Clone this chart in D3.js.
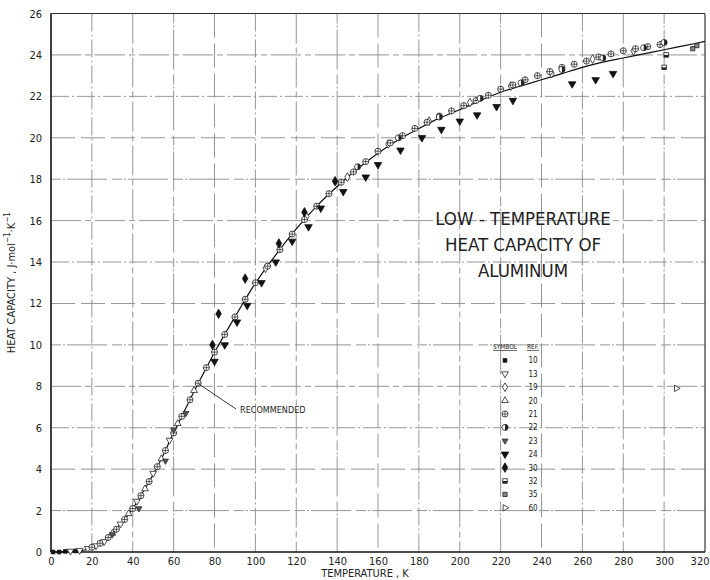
<!DOCTYPE html>
<html>
<head>
<meta charset="utf-8">
<script src="https://cdn.jsdelivr.net/npm/d3@7/dist/d3.min.js"></script>
<style>
  body { margin: 0; background: #fff; }
  text { font-family: "DejaVu Sans Condensed", "Liberation Sans Narrow", sans-serif; fill: #222; }
</style>
</head>
<body>
<div id="chart"></div>
<script>
// Datos (T en K, Cp en J/mol K)

const X_TICKS = [0, 20, 40, 60, 80, 100, 120, 140, 160, 180, 200, 220, 240, 260, 280, 300, 320];
const Y_TICKS = [0, 2, 4, 6, 8, 10, 12, 14, 16, 18, 20, 22, 24, 26];

const curveT  = [0, 5, 10, 15, 20, 25, 30, 35, 40, 45, 50, 55, 60, 65, 70, 75, 80, 90, 100, 110, 120, 130, 140, 150, 160, 170, 180, 190, 200, 210, 220, 230, 240, 250, 260, 270, 280, 290, 300, 310, 320];
const curveCp = [0, 0.002, 0.014, 0.06, 0.23, 0.47, 0.90, 1.45, 2.09, 2.9, 3.74, 4.7, 5.77, 6.75, 7.75, 8.7, 9.63, 11.35, 12.98, 14.35, 15.6, 16.7, 17.65, 18.5, 19.25, 19.9, 20.45, 20.95, 21.35, 21.8, 22.2, 22.5, 22.8, 23.1, 23.4, 23.65, 23.85, 24.05, 24.25, 24.45, 24.65];

const ref10T  = [1, 4, 7, 12];
const ref10Cp = [0.0, 0.0, 0.03, 0.05];
const ref13T  = [9.5, 14, 18, 22, 26, 34, 42, 50, 58];
const ref13Cp = [0.04, 0.08, 0.17, 0.3, 0.5, 1.35, 2.45, 3.8, 5.4];
const ref19T  = [105, 125, 145, 165, 185, 205, 225, 245, 265, 285];
const ref19Cp = [13.7, 16.2, 18.1, 19.7, 20.8, 21.7, 22.5, 23.1, 23.8, 24.2];
const ref20T  = [30, 38, 46, 54, 62, 70];
const ref20Cp = [0.9, 1.85, 3.05, 4.5, 6.2, 7.8];
const ref21T  = [20, 24, 28, 32, 36, 40, 44, 48, 52, 56, 60, 64, 68, 72, 76, 80, 85, 90, 95, 100, 106, 112, 118, 124, 130, 136, 142, 148, 154, 160, 166, 172, 178, 184, 190, 196, 202, 208, 214, 220, 226, 232, 238, 244, 250, 256, 262, 268, 274, 280, 286, 292, 298];
const ref21Cp = [0.23, 0.42, 0.7, 1.1, 1.57, 2.1, 2.72, 3.4, 4.12, 4.9, 5.75, 6.55, 7.35, 8.15, 8.9, 9.65, 10.5, 11.35, 12.2, 13.0, 13.8, 14.6, 15.35, 16.05, 16.7, 17.3, 17.85, 18.35, 18.85, 19.35, 19.75, 20.1, 20.45, 20.75, 21.05, 21.3, 21.55, 21.8, 22.05, 22.35, 22.55, 22.8, 23.0, 23.2, 23.4, 23.55, 23.7, 23.9, 24.05, 24.2, 24.3, 24.4, 24.5];
const ref22T  = [150, 170, 190, 210, 230, 250, 270, 290, 300];
const ref22Cp = [18.6, 20.0, 21.0, 21.9, 22.65, 23.3, 23.85, 24.35, 24.6];
const ref23T  = [30, 43, 56, 60, 66];
const ref23Cp = [0.85, 2.1, 4.4, 5.9, 6.7];
const ref24T  = [80, 85, 91, 96, 103, 110, 118, 126, 132, 143, 154, 160, 171, 181.5, 191, 200, 208.5, 218, 226, 255, 266.5, 275];
const ref24Cp = [9.2, 10.0, 11.1, 11.9, 13.0, 14.0, 15.0, 15.7, 16.6, 17.4, 18.1, 18.7, 19.4, 20.0, 20.4, 20.8, 21.1, 21.5, 21.8, 22.6, 22.8, 23.1];
const ref30T  = [79, 82, 95, 111.5, 124, 139];
const ref30Cp = [10.0, 11.5, 13.2, 14.9, 16.4, 17.9];
const ref32T  = [300, 301];
const ref32Cp = [23.4, 24.0];
const ref35T  = [314, 316];
const ref35Cp = [24.3, 24.45];
const ref60T  = [306];
const ref60Cp = [7.9];

const LEGEND_REFS = ["10", "13", "19", "20", "21", "22", "23", "24", "30", "32", "35", "60"];

const TITLE_LINES = ["LOW - TEMPERATURE", "HEAT CAPACITY OF", "ALUMINUM"];

// Dimensiones

const WIDTH = 710;
const HEIGHT = 580;
const PLOT = { left: 51, right: 705, top: 13.5, bottom: 552 };

const svg = d3.select("#chart")
    .append("svg")
    .attr("width", WIDTH)
    .attr("height", HEIGHT);

const xScale = d3.scaleLinear().domain([0, 320]).range([PLOT.left, PLOT.right]);
const yScale = d3.scaleLinear().domain([0, 26]).range([PLOT.bottom, PLOT.top]);

// Grilla (lineas cortadas como en el original escaneado)
const dashes = ["18,3,2,3", "30,4,6,4", "10,2,2,2,40,5", "24,6"];

svg.append("g")
    .selectAll("line")
    .data(X_TICKS.slice(1, -1))
    .join("line")
    .attr("x1", d => xScale(d))
    .attr("x2", d => xScale(d))
    .attr("y1", PLOT.top)
    .attr("y2", PLOT.bottom)
    .attr("stroke", "#8a8a8a")
    .attr("stroke-width", 0.9)
    .attr("stroke-dasharray", (d, i) => dashes[i % dashes.length]);

svg.append("g")
    .selectAll("line")
    .data(Y_TICKS.slice(1, -1))
    .join("line")
    .attr("x1", PLOT.left)
    .attr("x2", PLOT.right)
    .attr("y1", d => yScale(d))
    .attr("y2", d => yScale(d))
    .attr("stroke", "#8a8a8a")
    .attr("stroke-width", 0.9)
    .attr("stroke-dasharray", (d, i) => dashes[(i + 2) % dashes.length]);

// Marco
svg.append("line").attr("x1", PLOT.left).attr("x2", PLOT.left).attr("y1", PLOT.top).attr("y2", PLOT.bottom)
    .attr("stroke", "#111").attr("stroke-width", 1.6);
svg.append("line").attr("x1", PLOT.left).attr("x2", PLOT.right).attr("y1", PLOT.bottom).attr("y2", PLOT.bottom)
    .attr("stroke", "#111").attr("stroke-width", 1.6);
svg.append("line").attr("x1", PLOT.left).attr("x2", PLOT.right).attr("y1", PLOT.top).attr("y2", PLOT.top)
    .attr("stroke", "#333").attr("stroke-width", 1);
svg.append("line").attr("x1", PLOT.right).attr("x2", PLOT.right).attr("y1", PLOT.top).attr("y2", PLOT.bottom)
    .attr("stroke", "#333").attr("stroke-width", 1.2);

// Ejes
const ejeX = d3.axisBottom(xScale).tickValues(X_TICKS).tickSize(0).tickPadding(5).tickFormat(d3.format("d"));
const ejeY = d3.axisLeft(yScale).tickValues(Y_TICKS).tickSize(0).tickPadding(9).tickFormat(d3.format("d"));

const gX = svg.append("g")
    .attr("transform", `translate(0, ${PLOT.bottom})`)
    .call(ejeX)
    .call(g => g.select(".domain").remove());

gX.selectAll("text")
    .attr("font-size", 11)
    .attr("font-family", "DejaVu Sans Condensed, sans-serif")
    .attr("fill", "#222");

// el ultimo rotulo (320) queda pegado al borde derecho
gX.selectAll(".tick")
    .filter(d => d === 320)
    .select("text")
    .attr("text-anchor", "end")
    .attr("x", 4);

svg.append("g")
    .attr("transform", `translate(${PLOT.left}, 0)`)
    .call(ejeY)
    .call(g => g.select(".domain").remove())
    .selectAll("text")
    .attr("font-size", 11)
    .attr("font-family", "DejaVu Sans Condensed, sans-serif")
    .attr("fill", "#222");

svg.append("text")
    .attr("x", 365)
    .attr("y", 577)
    .attr("text-anchor", "middle")
    .attr("font-size", 11)
    .text("TEMPERATURE , K");

const yLabel = svg.append("text")
    .attr("transform", `translate(15, ${(PLOT.top + PLOT.bottom) / 2}) rotate(-90)`)
    .attr("text-anchor", "middle")
    .attr("font-size", 11);
yLabel.append("tspan").text("HEAT CAPACITY , J·mol");
yLabel.append("tspan").attr("dy", -5).attr("font-size", 8).text("−1");
yLabel.append("tspan").attr("dy", 5).text("·K");
yLabel.append("tspan").attr("dy", -5).attr("font-size", 8).text("−1");

// Curva recomendada
const curvaData = curveT.map((t, i) => [t, curveCp[i]]);
const linea = d3.line()
    .x(d => xScale(d[0]))
    .y(d => yScale(d[1]))
    .curve(d3.curveMonotoneX);

svg.append("path")
    .datum(curvaData)
    .attr("d", linea)
    .attr("fill", "none")
    .attr("stroke", "#111")
    .attr("stroke-width", 1.2);

// Simbolos por referencia
const SIMBOLOS = {
    "10": { type: d3.symbolSquare, size: 14, fill: "#111", stroke: "#111" },
    "13": { type: d3.symbolTriangle, size: 20, fill: "#fff", stroke: "#222", rotate: 180 },
    "19": { type: d3.symbolDiamond, size: 22, fill: "#fff", stroke: "#222" },
    "20": { type: d3.symbolTriangle, size: 20, fill: "#fff", stroke: "#222" },
    "21": { type: "cross-circle", size: 22, fill: "#fff", stroke: "#222" },
    "22": { type: "half-circle", size: 22, fill: "#fff", stroke: "#222" },
    "23": { type: d3.symbolTriangle, size: 16, fill: "#555", stroke: "#333", rotate: 180 },
    "24": { type: d3.symbolTriangle, size: 24, fill: "#111", stroke: "#111", rotate: 180 },
    "30": { type: d3.symbolDiamond, size: 26, fill: "#111", stroke: "#111" },
    "32": { type: "half-square", size: 20, fill: "#fff", stroke: "#222" },
    "35": { type: d3.symbolSquare, size: 18, fill: "#888", stroke: "#222" },
    "60": { type: d3.symbolTriangle, size: 18, fill: "#fff", stroke: "#222", rotate: 90 },
};

const SERIES = [
    ["10", ref10T, ref10Cp], ["13", ref13T, ref13Cp], ["19", ref19T, ref19Cp],
    ["20", ref20T, ref20Cp], ["21", ref21T, ref21Cp], ["22", ref22T, ref22Cp],
    ["23", ref23T, ref23Cp], ["24", ref24T, ref24Cp], ["30", ref30T, ref30Cp],
    ["32", ref32T, ref32Cp], ["35", ref35T, ref35Cp], ["60", ref60T, ref60Cp],
];

function dibujarSimbolo(g, ref) {
    const s = SIMBOLOS[ref];
    const r = Math.sqrt(s.size / Math.PI) + 0.4;
    if (s.type === "cross-circle") {
        g.append("circle").attr("r", r).attr("fill", s.fill).attr("stroke", s.stroke).attr("stroke-width", 0.8);
        g.append("path").attr("d", `M${-r},0H${r}M0,${-r}V${r}`).attr("stroke", s.stroke).attr("stroke-width", 0.7);
    } else if (s.type === "half-circle") {
        g.append("circle").attr("r", r).attr("fill", s.fill).attr("stroke", s.stroke).attr("stroke-width", 0.8);
        g.append("path").attr("d", d3.arc()({ innerRadius: 0, outerRadius: r, startAngle: 0, endAngle: Math.PI }))
            .attr("fill", s.stroke);
    } else if (s.type === "half-square") {
        const h = Math.sqrt(s.size) / 2;
        g.append("rect").attr("x", -h).attr("y", -h).attr("width", 2 * h).attr("height", 2 * h)
            .attr("fill", s.fill).attr("stroke", s.stroke).attr("stroke-width", 0.8);
        g.append("rect").attr("x", -h).attr("y", 0).attr("width", 2 * h).attr("height", h).attr("fill", s.stroke);
    } else {
        g.append("path")
            .attr("d", d3.symbol().type(s.type).size(s.size)())
            .attr("transform", s.rotate ? `rotate(${s.rotate})` : null)
            .attr("fill", s.fill)
            .attr("stroke", s.stroke)
            .attr("stroke-width", 0.8);
    }
}

SERIES.forEach(([ref, ts, cps]) => {
    const puntos = ts.map((t, i) => ({ t: t, cp: cps[i] }));
    svg.append("g")
        .attr("class", "ref-" + ref)
        .selectAll("g")
        .data(puntos)
        .join("g")
        .attr("transform", d => `translate(${xScale(d.t)}, ${yScale(d.cp)})`)
        .each(function () { dibujarSimbolo(d3.select(this), ref); });
});

// Etiqueta RECOMMENDED
svg.append("line")
    .attr("x1", xScale(72.5)).attr("y1", yScale(8.1))
    .attr("x2", 236).attr("y2", 409)
    .attr("stroke", "#222").attr("stroke-width", 0.9);
svg.append("text")
    .attr("x", 240)
    .attr("y", 413)
    .attr("font-size", 9)
    .text("RECOMMENDED");

// Titulo
svg.append("g")
    .selectAll("text")
    .data(TITLE_LINES)
    .join("text")
    .attr("x", 523)
    .attr("y", (d, i) => 225 + i * 26)
    .attr("text-anchor", "middle")
    .attr("font-size", 18.5)
    .attr("fill", "#111")
    .text(d => d);

// Leyenda
const LEG = { xSym: 505, xRef: 533, y0: 347, dy: 13.4 };

svg.append("text").attr("x", LEG.xSym).attr("y", LEG.y0 + 2).attr("text-anchor", "middle")
    .attr("font-size", 6.5).attr("text-decoration", "underline").text("SYMBOL");
svg.append("text").attr("x", LEG.xRef).attr("y", LEG.y0 + 2).attr("text-anchor", "middle")
    .attr("font-size", 6.5).attr("text-decoration", "underline").text("REF.");

const filas = svg.append("g")
    .selectAll("g")
    .data(LEGEND_REFS)
    .join("g")
    .attr("transform", (d, i) => `translate(0, ${LEG.y0 + (i + 1) * LEG.dy})`);

filas.append("g")
    .attr("transform", `translate(${LEG.xSym}, 0)`)
    .each(function (d) { dibujarSimbolo(d3.select(this), d); });

filas.append("text")
    .attr("x", LEG.xRef)
    .attr("y", 3)
    .attr("text-anchor", "middle")
    .attr("font-size", 8)
    .text(d => d);
</script>
</body>
</html>
